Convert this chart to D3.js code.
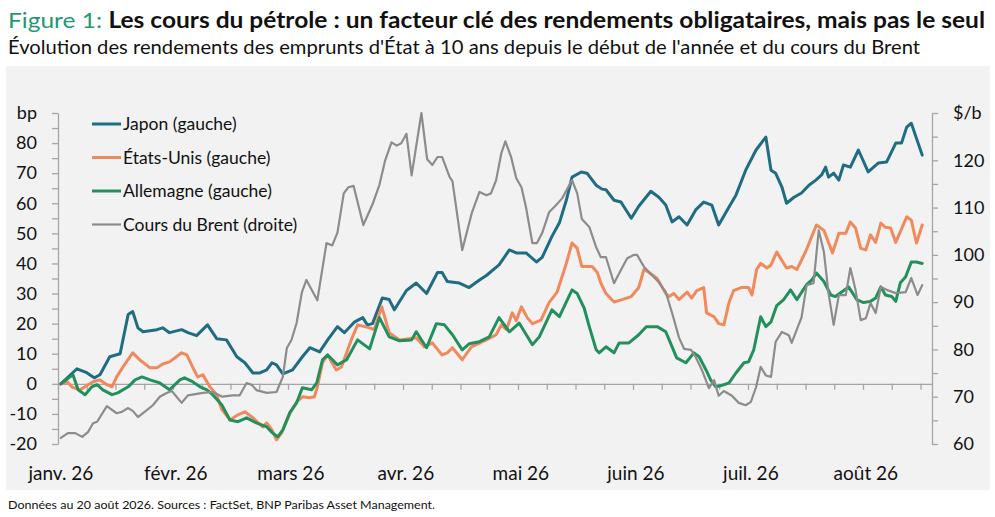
<!DOCTYPE html>
<html><head><meta charset="utf-8">
<script src="https://cdn.jsdelivr.net/npm/d3@7"></script>
<style>html,body{margin:0;padding:0;background:#fff;}svg{display:block;font-family:Lato,"Open Sans",sans-serif;}</style>
</head><body><svg id="c" width="995" height="517"></svg>
<script>
// ---------- data ----------
const months = ["janv. 26","févr. 26","mars 26","avr. 26","mai 26","juin 26","juil. 26","août 26"];
const nCategories = 152, labelEvery = 20, tickEvery = 5;
const leftTicks = [-20,-10,0,10,20,30,40,50,60,70,80];
const rightTicks = [60,70,80,90,100,110,120];
const leftUnit = "bp", rightUnit = "$/b";
const names = ["Japon (gauche)","États-Unis (gauche)","Allemagne (gauche)","Cours du Brent (droite)"];
// [position (trading day), value]
const japon = [[0.5,0],[3.3,5],[5,3.7],[6.3,2],[7.3,3],[9,9],[10.8,10],[12.2,23],[13,24],[13.9,18.6],[14.8,17.3],[17.2,18],[18.2,18.6],[19.4,17],[21.5,18],[22.6,17],[24.1,16],[26,19.6],[27.6,15],[29.3,14.6],[31.1,9],[32.5,7],[33.9,3.6],[35.1,3.6],[36.3,4.6],[37.2,7],[38,6.3],[39.1,3.3],[40.8,4.6],[42.5,9],[43.8,12],[45.5,10.6],[46.9,14.6],[48.6,19],[49.8,17],[51.6,20.6],[53,22],[53.8,19.6],[54.7,20],[56.4,28.5],[57.6,28],[58.5,24.6],[60.6,31],[62.3,33.5],[64.1,30],[66,37],[66.8,37],[67.7,34],[69.8,33.5],[71.5,32],[73.3,34.5],[74.5,36],[76.7,39.5],[78.5,44.5],[79.7,43.5],[81.4,43.5],[83.2,40.5],[84.2,42],[85.9,49],[87.2,53.5],[88.4,61],[89.4,68.7],[91,70.4],[92,70],[93.6,66],[94.6,64.7],[95.3,64.5],[96.7,61],[97.9,60.4],[99.7,55],[101,59],[103.1,64],[104.5,62],[105.7,59.4],[106.8,53.8],[108,55.5],[109.4,52.8],[110.9,57.8],[112.3,60.4],[113.7,59.4],[114.9,52.8],[116.7,58.8],[117.9,62.7],[119.6,71],[121.4,77.7],[123.1,82],[124,71],[124.8,70],[125.9,65.4],[126.7,60],[128,62],[129.3,63.4],[130.6,66],[131.8,67.7],[132.8,69.4],[133.5,72],[134,68.7],[134.9,70],[135.8,67.7],[136.6,72.7],[137.8,72],[139.2,77.7],[140.9,70.4],[142.7,73.4],[144.1,73.7],[145.7,80],[146.7,80],[147.6,85.3],[148.4,86.6],[150.3,76]];
const etatsUnis = [[0.5,0],[1.6,0.7],[2.4,-1],[3.8,-2],[4.7,-1],[6.1,0.7],[7.3,1.3],[8.5,-0.3],[9.4,-1],[10.2,2.3],[11.3,5.6],[13,10.3],[14.2,8],[16,5.3],[17.2,5.3],[18.2,6.6],[19.4,7.3],[20.3,8.6],[21.5,10.3],[22.4,9.6],[23.4,5.6],[24.3,2.3],[25.2,3],[26.4,-1],[27.6,-3.6],[28.5,-8.6],[29.9,-12],[31.3,-10.3],[32.5,-9.3],[33.9,-11.3],[35.6,-14.3],[36.3,-13],[37.2,-15.3],[38,-18.6],[38.9,-16.3],[40.3,-10],[41.5,-6],[42.5,-4.3],[43.8,-4.6],[44.6,-4.3],[45.1,-1],[46,7],[46.9,9.6],[48.4,4.6],[49.3,5.6],[51,14.6],[52.1,19.6],[54.2,18.6],[55,18],[56.3,25.6],[57.6,17],[59.4,14.6],[62.3,15.3],[63.7,12.3],[65.1,13.6],[66.8,9.6],[67.7,10.3],[68.6,12],[70.3,8],[71.9,12.3],[74.5,14.6],[76.2,16.3],[77.1,19.6],[78,18],[79,23.6],[79.7,21],[80.6,25.6],[81.6,22],[82.5,20],[84,21.2],[85.4,27],[86.8,30.5],[88.4,40],[89.4,46.8],[90.3,45],[91.1,39],[92.9,39],[93.8,37],[94.4,33.5],[95.3,30],[96.7,27.2],[98.1,28],[99.7,29],[101,32],[101.9,38],[102.8,37],[104.2,35],[105.7,30],[106.3,29],[107.1,30],[108,28],[109.4,30.5],[110.2,28.5],[111.1,31],[112.3,32],[112.8,23.6],[114.1,22.3],[114.9,20],[115.8,19.6],[116.7,27],[117.5,31],[118.8,32],[120.1,32],[120.7,29.5],[121.5,38],[122.2,40],[123.3,38.5],[124,39.5],[125,43.8],[126.7,38.5],[127.6,39],[128.5,38],[130,43.8],[131.9,52.8],[133.2,51],[134.7,43.5],[135.8,50],[137,50],[137.8,53.8],[138.7,51.8],[139.6,45],[140.5,44.5],[141.3,49.5],[142.2,47],[143.1,53.4],[143.9,52],[144.8,51.8],[145.7,47],[147.6,55.5],[148.4,54.4],[149.3,46.8],[150.3,52.8]];
const allemagne = [[0.5,0],[2.1,2.3],[2.6,3],[3.5,-2],[4.7,-3.6],[5.9,-1],[6.8,-0.3],[7.8,-2],[9.4,-3.6],[10.4,-3],[12.2,-1],[13.4,1.3],[14.6,2.3],[16,1.3],[17.7,0.3],[19.4,-2],[21.2,1.3],[22,2],[23.4,0.7],[24.7,-1],[25.9,-2],[26.9,-3.6],[28.5,-7],[29.9,-12],[31.3,-12.6],[32.8,-11.3],[34.5,-13],[36.3,-14.3],[37.3,-16.3],[38.2,-17.6],[39.1,-15.3],[40.3,-9.6],[41.5,-6.3],[42.5,-1.3],[44.1,-2],[45,0.3],[46,8],[46.9,9.6],[48.6,6.3],[50.2,8],[52.1,14.6],[54.2,11.6],[55.9,22],[57.6,15.6],[59.4,14.3],[61.5,14.6],[62.3,17.3],[64.1,12],[65.8,20],[67.2,19.6],[68.6,16.3],[70.3,11.3],[71.5,13.3],[73.3,14],[75,15.6],[76.7,22],[78.5,17.3],[80.2,20.2],[82.5,13],[83.7,15.6],[85.9,24.6],[87.2,22.3],[89.4,31.2],[90.3,30],[91.5,25.2],[92.4,19],[93.6,11.3],[94.1,10.3],[95.3,12.3],[96.7,10.3],[97.6,13.6],[99.3,13.6],[101,16.3],[102.3,19],[104.2,19],[105.7,17.3],[106.8,12.3],[107.6,8.6],[109.2,7],[110.6,10.3],[111.5,9],[112.7,4.6],[113.5,1.3],[114.4,-1],[115.8,-0.3],[116.7,0.3],[117.9,3.6],[119.3,7],[120.1,7.3],[121,11.3],[122.2,22.3],[123.1,19],[124,20.6],[125,26],[126.2,28],[127.4,31.2],[128.5,28],[130.2,33],[131.1,34.5],[131.9,36.8],[133.2,34],[134.4,29.5],[135.2,29],[136.3,30.5],[137.5,32.2],[138.9,28],[140.1,27],[141.3,27.4],[142.2,28.5],[143.1,32.2],[143.9,29.5],[145,29],[145.7,27.4],[146.5,33.6],[147.4,35.5],[148.4,40.5],[149.3,40.5],[150.3,40]];
const brent = [[0.5,61.3],[1.7,62.3],[3,62.3],[4.2,61.5],[5.2,62.5],[6.1,64.4],[6.8,64.7],[8.5,68],[10.2,66.5],[11.1,66.8],[12.2,67.6],[13,67],[13.9,65.7],[15.5,67.2],[16.5,68.2],[17.7,70],[18.9,70.8],[19.8,71.2],[21.5,68.7],[22.6,70.3],[25.2,70.8],[26.9,71],[28.6,70],[30.4,70.3],[31.6,70.3],[32.8,72.9],[33.7,72.5],[34.5,71.4],[36.3,70.8],[38,71],[39.1,74.2],[39.8,80.3],[40.6,82],[41.5,85.6],[42.4,92],[43.2,94.7],[45.1,90.4],[46,97.2],[46.7,102.5],[47.7,102],[48.6,104.7],[49.7,113],[50.5,114.3],[51.4,114.6],[53.1,106.3],[54.7,110.7],[55.9,114.8],[56.9,120],[58,123.8],[58.9,123.1],[59.7,123.6],[60.6,125.6],[61.5,116.8],[62.3,123],[63.2,130],[64.2,120.2],[65.1,119],[66,120.7],[66.8,120.7],[68.1,116.5],[68.6,115.6],[70.3,101],[72,109],[73.3,113.3],[74.5,112.6],[75.3,113],[76.2,115.8],[77.1,121.5],[77.8,124],[78.8,120.7],[79.7,116.2],[80.6,114.3],[81.4,110],[82.5,102.5],[83.3,102.5],[84.2,104.6],[85.4,109],[86.6,110.5],[87.7,112],[89.4,115.8],[90.3,113],[91.1,107.6],[92.4,105.9],[93.6,101.6],[94.4,99.5],[95.3,99.5],[96.7,94],[97.9,96.8],[99,99.3],[100.2,100],[100.7,100],[101.9,97.5],[103.3,95.7],[104.5,94.2],[105.7,92.1],[106.8,87.7],[108,82.5],[108.9,80.1],[110.1,79.9],[110.9,78.4],[112,75.6],[112.8,73.1],[113.2,71.8],[114.1,73.5],[114.9,70.2],[115.8,71.2],[117.2,70.2],[118.4,68.7],[119.6,68.2],[120.5,68.9],[121.4,72],[122.2,76.3],[123.1,74.5],[124,74.2],[124.8,81.6],[125.9,83.7],[127.1,83],[127.6,81.4],[128.8,85.2],[129.3,86.7],[130.2,93.6],[131.4,94],[132.3,105.2],[133.2,100.6],[134,91.9],[134.9,85.2],[135.8,91.5],[137,91.5],[137.8,97.2],[138.7,92.6],[139.6,86.2],[140.5,86.6],[141.3,89.8],[142.2,87.7],[143.1,93.2],[144.1,92.6],[145.7,91.9],[147.4,92.1],[148.4,95.1],[149.5,91.5],[150.3,93.6]];

// ---------- layout ----------
const svg = d3.select("#c");
const W = 995, H = 517;
const plot = {left: 58, right: 932, top: 113, bottom: 444};
const colors = ["#1f6c83","#f0895c","#22905c","#8c8c8c"];
const widths = [3, 3, 3, 2.2];
const axisColor = "#a5a5a5";

// title
const t = svg.append("text").attr("x", 8).attr("y", 28).attr("font-size", 22)
  .attr("textLength", 977).attr("lengthAdjust", "spacingAndGlyphs");
t.append("tspan").attr("fill", "#1f9a72").text("Figure 1: ");
t.append("tspan").attr("font-weight", "bold").attr("fill", "#111").text("Les cours du pétrole : un facteur clé des rendements obligataires, mais pas le seul");
svg.append("text").attr("x", 8).attr("y", 54).attr("font-size", 19).attr("fill", "#111")
  .attr("textLength", 912).attr("lengthAdjust", "spacingAndGlyphs")
  .text("Évolution des rendements des emprunts d'État à 10 ans depuis le début de l'année et du cours du Brent");

// panel
svg.append("rect").attr("x", 6).attr("y", 66).attr("width", 984).attr("height", 424).attr("fill", "#f2f2f2");

// footer
svg.append("text").attr("x", 8).attr("y", 509).attr("font-size", 11).attr("fill", "#111")
  .attr("textLength", 427).attr("lengthAdjust", "spacingAndGlyphs")
  .text("Données au 20 août 2026. Sources : FactSet, BNP Paribas Asset Management.");

// scales
const x = d3.scaleLinear().domain([0, nCategories]).range([plot.left, plot.right]);
const yL = d3.scaleLinear().domain([-20, 90]).range([plot.bottom, plot.top]);
const yR = d3.scaleLinear().domain([60, 130]).range([plot.bottom, plot.top]);

function styleAxis(g){
  g.select(".domain").attr("stroke", axisColor).attr("stroke-width", 1.3);
  g.selectAll(".tick line").attr("stroke", axisColor).attr("stroke-width", 1.3);
  g.selectAll(".tick text").attr("fill", "#111").attr("font-size", 18).attr("font-family", "Lato, sans-serif");
}

// left axis
const gL = svg.append("g").attr("transform", `translate(${plot.left},0)`)
  .call(d3.axisLeft(yL).tickValues(d3.range(-20, 91, 5)).tickSize(6).tickPadding(15)
    .tickSizeOuter(0)
    .tickFormat(d => leftTicks.includes(d) ? d : (d === 90 ? leftUnit : "")));
styleAxis(gL);

// right axis
const gR = svg.append("g").attr("transform", `translate(${plot.right},0)`)
  .call(d3.axisRight(yR).tickValues(d3.range(60, 131, 5)).tickSize(6).tickPadding(15)
    .tickSizeOuter(0)
    .tickFormat(d => rightTicks.includes(d) ? d : (d === 130 ? rightUnit : "")));
styleAxis(gR);

// x axis at zero
const gX = svg.append("g").attr("transform", `translate(0,${yL(0)})`)
  .call(d3.axisBottom(x).tickValues(d3.range(0, nCategories, tickEvery)).tickSize(6).tickSizeOuter(0).tickFormat(""));
styleAxis(gX);

// month labels
svg.append("g").selectAll("text").data(months).join("text")
  .attr("x", (d, i) => x(i * labelEvery + 0.5))
  .attr("y", 480).attr("text-anchor", "middle").attr("font-size", 19).attr("fill", "#111")
  .text(d => d);

// lines
const lineL = d3.line().x(d => x(d[0])).y(d => yL(d[1])).curve(d3.curveLinear);
const lineR = d3.line().x(d => x(d[0])).y(d => yR(d[1])).curve(d3.curveLinear);
const series = [japon, etatsUnis, allemagne];
series.forEach((s, i) => {
  svg.append("path").attr("d", lineL(s)).attr("fill", "none").attr("stroke", colors[i])
    .attr("stroke-width", widths[i]).attr("stroke-linejoin", "round").attr("stroke-linecap", "round");
});
svg.append("path").attr("d", lineR(brent)).attr("fill", "none").attr("stroke", colors[3])
  .attr("stroke-width", widths[3]).attr("stroke-linejoin", "round").attr("stroke-linecap", "round");

// legend
const leg = svg.append("g");
names.forEach((n, i) => {
  const yy = 124 + i * 33.5;
  leg.append("line").attr("x1", 92).attr("x2", 121).attr("y1", yy).attr("y2", yy)
    .attr("stroke", colors[i]).attr("stroke-width", widths[i]);
  leg.append("text").attr("x", 123).attr("y", yy).attr("dy", "0.35em").attr("font-size", 17.5)
    .attr("fill", "#111").text(n);
});
</script></body></html>
